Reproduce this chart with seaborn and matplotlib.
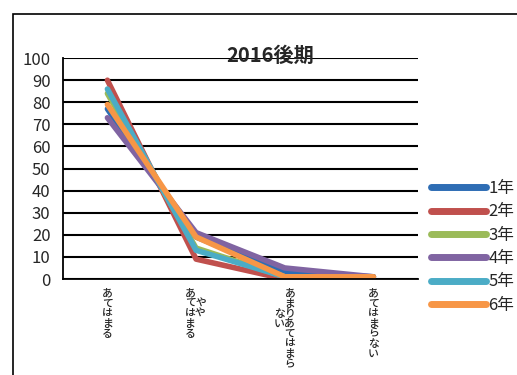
import matplotlib
matplotlib.use("Agg")
import matplotlib.pyplot as plt
import pandas as pd
import seaborn as sns
from matplotlib.patches import Rectangle

# Data
categories = ["あてはまる", "ややあてはまる", "あまりあてはまらない", "あてはまらない"]
tick_labels = [
    "あ\nて\nは\nま\nる",
    "あ\u3000\nてや\nはや\nま\u3000\nる\u3000",
    "\u3000あ\n\u3000ま\nなり\nいあ\n\u3000て\n\u3000は\n\u3000ま\n\u3000ら",
    "あ\nて\nは\nま\nら\nな\nい",
]
grades = ["1年", "2年", "3年", "4年", "5年", "6年"]
g1 = [77, 19, 3, 1]
g2 = [90, 9, 0, 1]
g3 = [84, 14, 1, 1]
g4 = [73, 21, 5, 1]
g5 = [86, 13, 1, 0]
g6 = [79, 19, 1, 1]
colors = ["#2E6DB4", "#C0504D", "#9BBB59", "#8064A2", "#4BACC6", "#F79646"]

rows = []
for grade, vals in zip(grades, [g1, g2, g3, g4, g5, g6]):
    for cat, v in zip(categories, vals):
        rows.append({"回答": cat, "値": v, "学年": grade})
df = pd.DataFrame(rows)

sns.set_style("white")
plt.rcParams["font.family"] = ["Noto Sans CJK JP", "DejaVu Sans"]

fig = plt.figure(figsize=(5.17, 3.75), dpi=100)
ax = fig.add_axes([0.122, 0.256, 0.686, 0.589])

sns.lineplot(data=df, x="回答", y="値", hue="学年", palette=colors,
             linewidth=4, sort=False, ax=ax)
for line in ax.get_lines():
    line.set_solid_capstyle("round")
    line.set_solid_joinstyle("round")

ax.set_xlim(-0.5, 3.5)
ax.set_ylim(0, 100)
ax.set_yticks(range(0, 101, 10))
ax.tick_params(axis="y", labelsize=12, length=5, width=1, color="black", pad=4)
ax.grid(axis="y", color="black", linewidth=1.5)
ax.set_axisbelow(True)

ax.set_xticks(range(4))
ax.set_xticklabels(tick_labels, fontsize=7.8, fontweight="medium",
                   linespacing=1.0, va="top")
ax.tick_params(axis="x", length=0, pad=7)
ax.set_xticks([0.5, 1.5, 2.5, 3.5], minor=True)
ax.tick_params(axis="x", which="minor", length=3, color="black")

ax.set_xlabel("")
ax.set_ylabel("")
for side in ["top", "right"]:
    ax.spines[side].set_visible(False)
for side in ["left", "bottom"]:
    ax.spines[side].set_color("black")
    ax.spines[side].set_linewidth(1.3)

ax.set_title("2016後期", fontsize=14.5, fontweight="bold", x=0.585, pad=-3)

handles, labels = ax.get_legend_handles_labels()
for h in handles:
    h.set_linewidth(5)
    h.set_solid_capstyle("round")
ax.legend(handles, labels, loc="center left", bbox_to_anchor=(1.02, 0.145),
          frameon=False, fontsize=12, handlelength=3.3, handletextpad=0.1,
          labelspacing=0.38, borderaxespad=0)

fig.add_artist(Rectangle((13 / 517, -0.1), 1.2, 1.1 - 14 / 375,
                         transform=fig.transFigure, fill=False,
                         edgecolor="black", linewidth=1.2))

fig.savefig("out.png", dpi=100)
